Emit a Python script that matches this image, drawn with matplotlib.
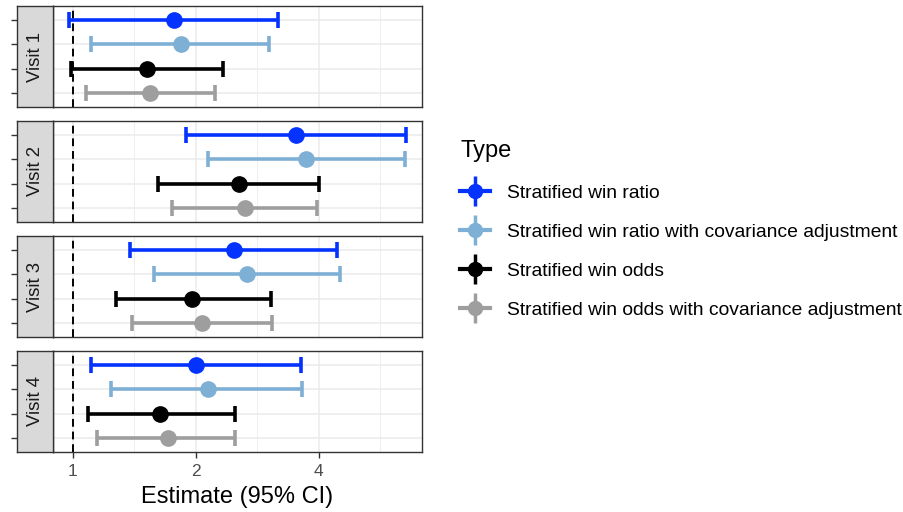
import numpy as np
import matplotlib
matplotlib.use("Agg")
import matplotlib.pyplot as plt
from matplotlib.lines import Line2D
from matplotlib.ticker import FixedLocator, NullFormatter

plt.rcParams['font.family'] = ['Liberation Sans', 'DejaVu Sans']

visits = ['Visit 1', 'Visit 2', 'Visit 3', 'Visit 4']
types = ['Stratified win ratio',
         'Stratified win ratio with covariance adjustment',
         'Stratified win odds',
         'Stratified win odds with covariance adjustment']
colors = ['#0433FF', '#7EB0D5', '#000000', '#9E9E9E']

# rows: visit, columns: type
est = [[1.77, 1.84, 1.52, 1.55],
       [3.52, 3.73, 2.55, 2.64],
       [2.48, 2.67, 1.96, 2.07],
       [2.01, 2.14, 1.64, 1.71]]
lower = [[0.98, 1.11, 0.99, 1.08],
         [1.89, 2.14, 1.62, 1.75],
         [1.38, 1.58, 1.28, 1.40],
         [1.11, 1.24, 1.09, 1.15]]
upper = [[3.18, 3.02, 2.33, 2.23],
         [6.54, 6.50, 4.01, 3.96],
         [4.45, 4.51, 3.06, 3.07],
         [3.62, 3.65, 2.50, 2.50]]

W, H = 904, 512
fig = plt.figure(figsize=(W / 100, H / 100), dpi=100)

def px_rect(x0, y0, x1, y1):
    return [x0 / W, 1 - y1 / H, (x1 - x0) / W, (y1 - y0) / H]

tops = [6, 121, 236, 351]
ph = 101
rows = [4, 3, 2, 1]
border = '#333333'
grid = '#EBEBEB'

axes = []
for i, v in enumerate(visits):
    t = tops[i]
    ax = fig.add_axes(px_rect(53, t, 422, t + ph))
    sax = fig.add_axes(px_rect(17, t, 53, t + ph))
    ax.set_xscale('log', base=2)
    ax.set_xlim(0.895, 7.17)
    ax.set_ylim(0.4, 4.6)
    ax.xaxis.set_major_locator(FixedLocator([1, 2, 4]))
    ax.xaxis.set_minor_locator(FixedLocator([2 ** 0.5, 2 ** 1.5, 2 ** 2.5]))
    ax.xaxis.set_minor_formatter(NullFormatter())
    ax.set_yticks(rows)
    ax.tick_params(axis='y', left=False, labelleft=False)
    ax.tick_params(axis='x', which='minor', bottom=False)
    ax.grid(True, which='major', color=grid, lw=1.1, zorder=0)
    ax.grid(True, which='minor', axis='x', color=grid, lw=0.6, zorder=0)
    ax.set_axisbelow(True)
    for s in ax.spines.values():
        s.set_color(border)
        s.set_linewidth(1.0)
    ax.axvline(1, color='black', ls=(0, (4, 2.5)), lw=1.4, zorder=2)

    for j in range(4):
        y = rows[j]
        ax.errorbar(est[i][j], y,
                    xerr=[[est[i][j] - lower[i][j]], [upper[i][j] - est[i][j]]],
                    fmt='o', color=colors[j], ms=11, elinewidth=2.6,
                    capsize=6, capthick=2.6, zorder=3)

    if i < 3:
        ax.tick_params(axis='x', which='major', bottom=False, labelbottom=False)
    else:
        ax.tick_params(axis='x', which='major', length=4, width=1, color=border,
                       labelsize=12.5, labelcolor='#4D4D4D', pad=5)
        ax.set_xticklabels(['1', '2', '4'])
        ax.set_xlabel('Estimate (95% CI)', fontsize=17, color='black', labelpad=5)

    # facet strip on the left
    sax.set_facecolor('#D9D9D9')
    sax.set_ylim(0.4, 4.6)
    sax.set_xticks([])
    sax.set_yticks(rows)
    sax.tick_params(axis='y', length=4, width=1, color=border, labelleft=False)
    for s in sax.spines.values():
        s.set_color(border)
        s.set_linewidth(1.0)
    sax.text(0.5, 0.5, v, rotation=90, ha='center', va='center',
             fontsize=13.4, color='#1A1A1A', transform=sax.transAxes)
    axes.append(ax)

handles = []
for c in colors:
    hl = Line2D([], [], color=c, lw=3)
    vl = Line2D([], [], color=c, marker='|', ls='none', ms=22, mew=2.5)
    pt = Line2D([], [], color=c, marker='o', ls='none', ms=10)
    handles.append((hl, vl, pt))

leg = fig.legend(handles, types, loc='upper left',
                 bbox_to_anchor=(443 / W, 1 - 123 / H),
                 frameon=False, title='Type', fontsize=13.9,
                 title_fontsize=17, handlelength=1.55, handletextpad=0.85,
                 labelspacing=1.12, alignment='left')

fig.savefig('out.png', dpi=100)
